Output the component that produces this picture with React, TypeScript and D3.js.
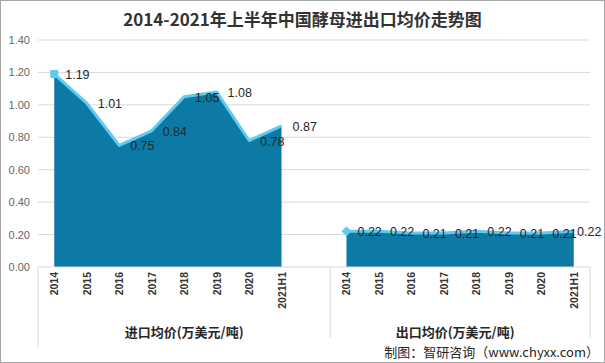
import React from "react";
import * as d3 from "d3";

const years = ["2014", "2015", "2016", "2017", "2018", "2019", "2020", "2021H1"];
const importPrice = [1.19, 1.01, 0.75, 0.84, 1.05, 1.08, 0.78, 0.87];
const exportPrice = [0.22, 0.22, 0.21, 0.21, 0.22, 0.21, 0.21, 0.22];
const groupNames = ["进口均价(万美元/吨)", "出口均价(万美元/吨)"];
const yTicks = [0, 0.2, 0.4, 0.6, 0.8, 1.0, 1.2, 1.4];

const W = 605;
const H = 363;
const left = 38;
const right = 590;
const top = 40;
const bottom = 267;

// 8 import categories + 1 blank, then 8 export categories
const slots = [...years.map((y) => "i" + y), "gap", ...years.map((y) => "e" + y)];

const App: React.FC = () => {
  const x = d3.scaleBand<string>().domain(slots).range([left, right]);
  const cx = (k: string) => (x(k) as number) + x.bandwidth() / 2;
  const y = d3.scaleLinear().domain([0, 1.4]).range([bottom, top]);

  const series = [
    { key: "i", values: importPrice },
    { key: "e", values: exportPrice },
  ];

  const area = d3
    .area<number>()
    .x((_, i) => 0)
    .y0(bottom)
    .y1((d) => y(d));

  const sep = x("e2014") as number;

  return (
    <svg
      width={W}
      height={H}
      style={{ position: "absolute", left: 0, top: 0, fontFamily: "'Microsoft YaHei', 'Noto Sans CJK SC', sans-serif" }}
    >
      <rect x={0.5} y={0.5} width={W - 1} height={H - 1} fill="#fff" stroke="#a6a6a6" />

      <text x={W / 2} y={26} textAnchor="middle" fontSize={17} fontWeight="bold" fill="#333">
        2014-2021年上半年中国酵母进出口均价走势图
      </text>

      {yTicks.map((t) => (
        <g key={t}>
          {t > 0 && <line x1={left} x2={right} y1={y(t)} y2={y(t)} stroke="#d9d9d9" />}
          <text x={30} y={y(t) + 4} textAnchor="end" fontSize={11} fill="#666" fontFamily="Arial, 'Liberation Sans', sans-serif">
            {t.toFixed(2)}
          </text>
        </g>
      ))}

      {series.map((s) => {
        const keys = years.map((yr) => s.key + yr);
        const gen = area.x((_, i) => cx(keys[i]));
        const line = d3
          .line<number>()
          .x((_, i) => cx(keys[i]))
          .y((d) => y(d));
        const x0 = cx(keys[0]);
        const y0 = y(s.values[0]);
        return (
          <g key={s.key}>
            <path d={gen(s.values) || ""} fill="#0d7aa6" />
            <path d={line(s.values) || ""} fill="none" stroke="#5fcbf3" strokeWidth={3} strokeLinejoin="round" />
            {s.key === "i" ? (
              <rect x={x0 - 4} y={y0 - 4} width={8} height={8} fill="#5fcbf3" />
            ) : (
              <path d={`M${x0 - 5},${y0}L${x0},${y0 - 5}L${x0 + 5},${y0}L${x0},${y0 + 5}Z`} fill="#5fcbf3" />
            )}
            {s.values.map((v, i) => {
              let lx = cx(keys[i]) + 11;
              if (lx + 24 > W - 4) lx = W - 28;
              return (
                <text key={i} x={lx} y={y(v) + 5} fontSize={12.5} fill="#262626" fontFamily="Arial, 'Liberation Sans', sans-serif">
                  {v.toFixed(2)}
                </text>
              );
            })}
          </g>
        );
      })}

      {/* category axis box */}
      <line x1={left} x2={right} y1={bottom} y2={bottom} stroke="#d9d9d9" />
      <line x1={left} x2={left} y1={bottom} y2={347} stroke="#d9d9d9" />
      <line x1={sep} x2={sep} y1={bottom} y2={338} stroke="#d9d9d9" />
      <line x1={right} x2={right} y1={bottom} y2={338} stroke="#d9d9d9" />

      {series.map((s) =>
        years.map((yr) => {
          const px = cx(s.key + yr);
          return (
            <text
              key={s.key + yr}
              transform={`translate(${px + 4},${272}) rotate(-90)`}
              textAnchor="end"
              fontSize={10.5}
              fontWeight="bold"
              fill="#333"
              fontFamily="Arial, 'Liberation Sans', sans-serif"
            >
              {yr}
            </text>
          );
        })
      )}

      {groupNames.map((g, i) => {
        const a = i === 0 ? left : sep;
        const b = i === 0 ? sep : right;
        return (
          <text key={g} x={(a + b) / 2 + (i === 0 ? 0 : -5)} y={337} textAnchor="middle" fontSize={13} fontWeight="bold" fill="#262626">
            {g}
          </text>
        );
      })}

      <text x={599} y={357} textAnchor="end" fontSize={13} fill="#262626">
        制图：智研咨询（www.chyxx.com）
      </text>
    </svg>
  );
};

export default App;
